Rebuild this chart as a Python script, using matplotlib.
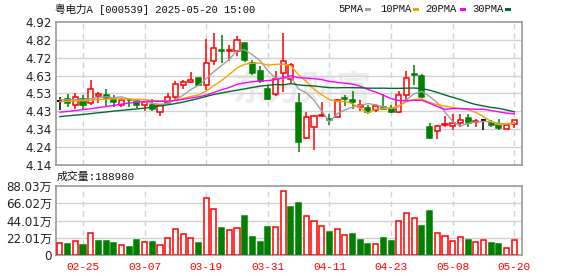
import matplotlib
matplotlib.use("Agg")
import matplotlib.pyplot as plt
from matplotlib.patches import Rectangle

# ---------------- data ----------------
title = "粤电力A [000539] 2025-05-20 15:00"
dates = ['02-20', '02-21', '02-24', '02-25', '02-26', '02-27', '02-28', '03-03', '03-04', '03-05',
         '03-06', '03-07', '03-10', '03-11', '03-12', '03-13', '03-14', '03-17', '03-18', '03-19',
         '03-20', '03-21', '03-24', '03-25', '03-26', '03-27', '03-28', '03-31', '04-01', '04-02',
         '04-03', '04-07', '04-08', '04-09', '04-10', '04-11', '04-14', '04-15', '04-16', '04-17',
         '04-18', '04-21', '04-22', '04-23', '04-24', '04-25', '04-28', '04-29', '04-30', '05-06',
         '05-07', '05-08', '05-09', '05-12', '05-13', '05-14', '05-15', '05-16', '05-19', '05-20']
opens = [4.49, 4.50, 4.467, 4.498, 4.48, 4.515, 4.523, 4.50, 4.467, 4.497,
         4.488, 4.467, 4.469, 4.428, 4.476, 4.51, 4.577, 4.595, 4.615, 4.579,
         4.71, 4.765, 4.763, 4.763, 4.804, 4.696, 4.655, 4.555, 4.528, 4.642,
         4.61, 4.476, 4.285, 4.346, 4.41, 4.392, 4.403, 4.505, 4.492, 4.456,
         4.452, 4.44, 4.456, 4.449, 4.427, 4.524, 4.635, 4.625, 4.346, 4.324,
         4.36, 4.353, 4.371, 4.398, 4.376, 4.384, 4.37, 4.357, 4.335, 4.362]
closes = [4.49, 4.48, 4.51, 4.467, 4.557, 4.525, 4.503, 4.481, 4.494, 4.493,
          4.469, 4.481, 4.443, 4.468, 4.51, 4.584, 4.593, 4.604, 4.577, 4.696,
          4.777, 4.76, 4.768, 4.823, 4.714, 4.642, 4.597, 4.50, 4.611, 4.705,
          4.687, 4.266, 4.40, 4.405, 4.415, 4.386, 4.494, 4.50, 4.483, 4.465,
          4.431, 4.461, 4.447, 4.431, 4.522, 4.612, 4.632, 4.513, 4.29, 4.351,
          4.364, 4.369, 4.387, 4.369, 4.38, 4.384, 4.358, 4.344, 4.357, 4.387]
highs = [4.51, 4.525, 4.535, 4.523, 4.606, 4.537, 4.555, 4.523, 4.507, 4.50,
         4.497, 4.481, 4.501, 4.47, 4.534, 4.597, 4.606, 4.646, 4.615, 4.828,
         4.859, 4.85, 4.795, 4.844, 4.804, 4.714, 4.678, 4.579, 4.651, 4.862,
         4.696, 4.534, 4.43, 4.413, 4.485, 4.42, 4.50, 4.52, 4.546, 4.497,
         4.47, 4.474, 4.525, 4.465, 4.546, 4.653, 4.685, 4.636, 4.368, 4.357,
         4.41, 4.42, 4.42, 4.42, 4.39, 4.39, 4.387, 4.39, 4.357, 4.387]
lows = [4.44, 4.454, 4.443, 4.447, 4.467, 4.476, 4.458, 4.456, 4.458, 4.455,
        4.45, 4.434, 4.434, 4.405, 4.471, 4.498, 4.557, 4.588, 4.57, 4.551,
        4.687, 4.696, 4.71, 4.732, 4.70, 4.633, 4.588, 4.492, 4.516, 4.537,
        4.584, 4.212, 4.28, 4.22, 4.405, 4.36, 4.40, 4.46, 4.443, 4.434,
        4.416, 4.429, 4.443, 4.422, 4.425, 4.49, 4.576, 4.507, 4.283, 4.283,
        4.35, 4.33, 4.348, 4.35, 4.35, 4.33, 4.35, 4.33, 4.335, 4.344]
volumes = [149000, 136000, 174000, 123000, 276000, 179000, 179000, 149000, 123000, 102000,
           191000, 166000, 166000, 123000, 213000, 327000, 264000, 213000, 153000, 723000,
           583000, 344000, 315000, 340000, 498000, 230000, 166000, 357000, 353000, 812000,
           612000, 663000, 498000, 434000, 370000, 293000, 332000, 255000, 268000, 196000,
           140000, 140000, 217000, 183000, 434000, 536000, 472000, 370000, 561000, 281000,
           242000, 179000, 230000, 196000, 166000, 191000, 153000, 140000, 89000, 188980]
ma5 = [4.497, 4.495, 4.497, 4.495, 4.501, 4.508, 4.512, 4.507, 4.512, 4.499,
       4.488, 4.484, 4.476, 4.471, 4.474, 4.497, 4.520, 4.552, 4.574, 4.611,
       4.649, 4.683, 4.716, 4.765, 4.768, 4.741, 4.709, 4.655, 4.613, 4.611,
       4.620, 4.554, 4.534, 4.493, 4.435, 4.375, 4.420, 4.440, 4.456, 4.466,
       4.475, 4.468, 4.457, 4.447, 4.458, 4.495, 4.529, 4.542, 4.514, 4.480,
       4.430, 4.377, 4.352, 4.368, 4.374, 4.378, 4.376, 4.367, 4.365, 4.366]
ma10 = [4.486, 4.487, 4.489, 4.490, 4.494, 4.497, 4.499, 4.500, 4.500, 4.500,
        4.498, 4.498, 4.491, 4.491, 4.487, 4.493, 4.502, 4.514, 4.522, 4.543,
        4.573, 4.601, 4.634, 4.669, 4.690, 4.695, 4.696, 4.685, 4.689, 4.690,
        4.681, 4.631, 4.595, 4.553, 4.523, 4.497, 4.487, 4.487, 4.474, 4.450,
        4.424, 4.444, 4.448, 4.451, 4.462, 4.485, 4.498, 4.500, 4.480, 4.469,
        4.462, 4.453, 4.447, 4.441, 4.427, 4.404, 4.377, 4.360, 4.366, 4.370]
ma20 = [4.428, 4.432, 4.437, 4.442, 4.447, 4.453, 4.459, 4.465, 4.472, 4.478,
        4.483, 4.487, 4.488, 4.487, 4.488, 4.492, 4.498, 4.505, 4.512, 4.521,
        4.536, 4.550, 4.563, 4.580, 4.588, 4.594, 4.599, 4.600, 4.606, 4.616,
        4.627, 4.616, 4.614, 4.611, 4.606, 4.596, 4.591, 4.586, 4.581, 4.570,
        4.552, 4.538, 4.521, 4.502, 4.492, 4.491, 4.493, 4.493, 4.477, 4.459,
        4.443, 4.448, 4.448, 4.446, 4.444, 4.444, 4.437, 4.430, 4.423, 4.419]
ma30 = [4.404, 4.408, 4.412, 4.416, 4.420, 4.425, 4.429, 4.434, 4.438, 4.442,
        4.446, 4.450, 4.456, 4.462, 4.468, 4.475, 4.483, 4.493, 4.503, 4.514,
        4.525, 4.533, 4.541, 4.548, 4.555, 4.563, 4.570, 4.575, 4.579, 4.577,
        4.584, 4.577, 4.573, 4.571, 4.566, 4.562, 4.561, 4.562, 4.562, 4.561,
        4.559, 4.559, 4.559, 4.558, 4.558, 4.559, 4.560, 4.557, 4.548, 4.536,
        4.522, 4.509, 4.497, 4.482, 4.470, 4.462, 4.454, 4.449, 4.440, 4.430]
price_ticks = [4.14, 4.2375, 4.335, 4.4325, 4.53, 4.6275, 4.725, 4.8225, 4.92]
price_tick_labels = ['4.14', '4.24', '4.34', '4.43', '4.53', '4.63', '4.72', '4.82', '4.92']
vol_ticks = [0, 220075, 440150, 660225, 880300]
vol_tick_labels = ['0', '22.01万', '44.01万', '66.02万', '88.03万']
xtick_labels = ['02-25', '03-07', '03-19', '03-31', '04-11', '04-23', '05-08', '05-20']
ma_names = ['5PMA', '10PMA', '20PMA', '30PMA']
volume_label = '成交量:188980'

# ---------------- style ----------------
RED = '#ff0000'
GREEN = '#008000'
MA_COLORS = ['#a0a0a0', '#f5a300', '#ff00ff', '#006c32']
GRID = '#d2d2d2'
BORDER = '#999999'
CJK = ['Liberation Mono', 'Noto Sans CJK SC']
NUMF = ['DejaVu Sans', 'Noto Sans CJK SC']

W, H = 578, 276
fig = plt.figure(figsize=(W / 100, H / 100), dpi=100)


def fx(px):
    return px / W


def fy(py):
    return 1 - py / H


ax = fig.add_axes([fx(56), fy(165), fx(522) - fx(56), fy(22) - fy(165)])
axv = fig.add_axes([fx(56), fy(255), fx(522) - fx(56), fy(186) - fy(255)])

n = len(closes)
xs = list(range(n))
tick_pos = [dates.index(d) for d in xtick_labels]
bw = 0.66

for a in (ax, axv):
    a.set_xlim(-0.5, n)
    for s in a.spines.values():
        s.set_color(BORDER)
        s.set_linewidth(1.2)
    for t in tick_pos:
        a.axvline(t, color=GRID, lw=1, ls=(0, (4, 3)), zorder=0)
    a.tick_params(length=0)

# watermark
ax.text(31.5, 4.555, '东方财富', fontsize=25, color='#ededed', ha='center', va='center',
        family='Noto Sans CJK SC', fontweight='bold', style='italic', zorder=0)

# price panel
ax.set_ylim(4.14, 4.92)
ax.set_yticks(price_ticks)
ax.set_yticklabels(price_tick_labels, family=NUMF, fontsize=8.6, color='#222222')
for t in price_ticks[1:-1]:
    ax.axhline(t, color=GRID, lw=1, zorder=0)
ax.set_xticks([])
ax.tick_params(axis='y', pad=3)

for i in xs:
    o, c, h, l = opens[i], closes[i], highs[i], lows[i]
    if c > o:
        col, fc = RED, 'white'
    elif c < o:
        col, fc = GREEN, GREEN
    else:
        col, fc = 'black', 'black'
    ax.vlines(i, l, h, color=col, lw=1.1, zorder=2)
    if c != o:
        ax.add_patch(Rectangle((i - bw / 2, min(o, c)), bw, abs(c - o),
                               facecolor=fc, edgecolor=col, lw=1.1, zorder=3))
    else:
        ax.hlines(o, i - bw / 2, i + bw / 2, color=col, lw=1.3, zorder=3)

for vals, col in zip([ma5, ma10, ma20, ma30], MA_COLORS):
    ax.plot(xs, vals, color=col, lw=1.0, zorder=4)

# volume panel
axv.set_ylim(0, vol_ticks[-1])
axv.set_yticks(vol_ticks)
axv.set_yticklabels(vol_tick_labels, family=NUMF, fontsize=8.6, color='#222222')
for t in vol_ticks[1:-1]:
    axv.axhline(t, color=GRID, lw=1, zorder=0)
axv.set_xticks(tick_pos)
axv.set_xticklabels(xtick_labels, family='Liberation Mono', fontsize=8, color=RED)
axv.tick_params(axis='x', pad=5)
axv.tick_params(axis='y', pad=3)
for i in xs:
    up = closes[i] >= (closes[i - 1] if i > 0 else opens[i])
    col = RED if up else GREEN
    fc = 'white' if up else GREEN
    axv.bar(i, volumes[i], width=bw, facecolor=fc, edgecolor=col, lw=1.1, zorder=3)

# header texts
fig.text(fx(55), fy(9.5), title, family=CJK, fontsize=7.6, ha='left', va='center', color='#111111')
fig.text(fx(57), fy(177), volume_label, family=CJK, fontsize=7.8, ha='left', va='center', color='#111111')

legend_x = [338, 380, 425, 472]
marker_x = [365, 413, 460, 505]
for name, lx, mx, col in zip(ma_names, legend_x, marker_x, MA_COLORS):
    fig.text(fx(lx), fy(9.5), name, family='Liberation Mono', fontsize=7.6, ha='left', va='center',
             color='#111111')
    fig.patches.append(Rectangle((fx(mx), fy(11)), fx(6), 3.5 / H, transform=fig.transFigure,
                                 facecolor=col, edgecolor='none', figure=fig))

fig.savefig('out.png', dpi=100)
